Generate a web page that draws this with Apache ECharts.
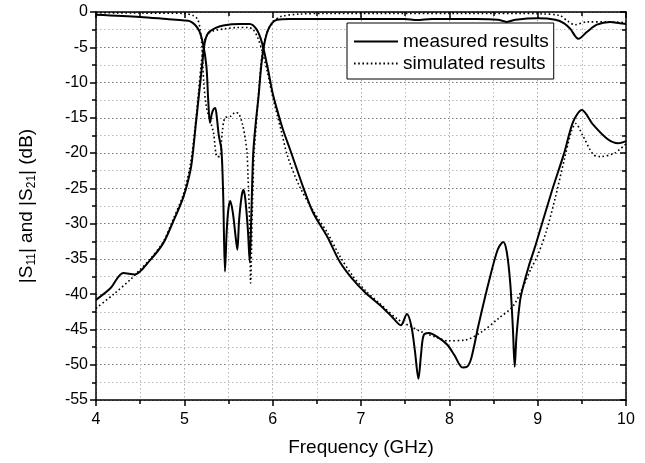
<!DOCTYPE html>
<html>
<head>
<meta charset="utf-8">
<script src="https://cdn.jsdelivr.net/npm/echarts@6/dist/echarts.min.js"></script>
<style>html,body{margin:0;padding:0;background:#fff}#c{width:645px;height:463px}</style>
</head>
<body>
<div id="c"></div>
<script>
// Measured |S11|
var measS11F = [4.0,4.5,4.8,5.0,5.06,5.12,5.17,5.21,5.25,5.27,5.29,5.31,5.33,5.35,5.37,5.39,5.42,5.44,5.46,5.48,5.50,5.52,5.55,5.58,5.60,5.62,5.65,5.67,5.69,5.72,5.74,5.76,5.78,5.81,5.84,5.87,5.90,5.94,5.99,6.05,6.2,6.5,7.0,7.5,7.63,7.8,8.3,8.55,8.65,8.75,9.0,9.2,9.3,9.37,9.46,9.56,9.67,9.82,9.93,10.0];
var measS11V = [-0.4,-0.7,-1.0,-1.2,-1.3,-1.8,-2.7,-4.4,-7.7,-12.4,-15.7,-14.5,-13.8,-13.6,-15.2,-17.5,-19.5,-26,-36.8,-31,-27.8,-26.8,-28.5,-31.8,-33.7,-29.5,-26,-25.2,-26.5,-31,-35.4,-28,-20,-15.5,-12,-7.7,-4.9,-2.8,-1.6,-1.1,-1.0,-1.0,-1.0,-1.0,-1.15,-1.0,-1.0,-1.1,-1.4,-1.1,-0.9,-1.1,-1.6,-2.4,-3.8,-2.8,-1.8,-1.4,-1.6,-1.7];
// Measured |S21|
var measS21F = [4.0,4.16,4.31,4.44,4.61,4.76,4.87,4.99,5.07,5.10,5.13,5.16,5.20,5.23,5.27,5.35,5.44,5.63,5.74,5.82,5.88,5.94,6.0,6.06,6.12,6.2,6.35,6.46,6.62,6.76,6.9,7.05,7.21,7.35,7.45,7.52,7.57,7.61,7.65,7.68,7.71,7.77,7.88,7.98,8.06,8.15,8.2,8.25,8.33,8.45,8.55,8.61,8.65,8.69,8.72,8.74,8.76,8.8,8.83,8.9,8.97,9.16,9.30,9.40,9.50,9.63,9.79,9.91,10.0];
var measS21V = [-40.8,-39.2,-37.0,-37.2,-35.2,-32.8,-29.8,-26.2,-22.4,-19.6,-15.9,-12.4,-7.7,-4.4,-3.0,-2.3,-1.9,-1.7,-1.7,-2.5,-4.4,-7.7,-11.5,-14.3,-16.8,-19.6,-25,-28.5,-31.9,-35.4,-37.8,-39.8,-41.5,-43.2,-44.4,-42.8,-44.5,-48,-52,-48.5,-45.8,-45.5,-46.2,-47.2,-48.7,-50.4,-50.3,-49,-44.4,-38.1,-33.6,-32.6,-34,-38.5,-45,-50.3,-46,-41,-39.2,-36,-33.3,-25.4,-20,-15.6,-13.9,-16,-18,-18.6,-18.3];
// Simulated |S11|
var simS11F = [4.0,4.5,5.0,5.1,5.15,5.18,5.20,5.22,5.25,5.29,5.33,5.37,5.40,5.43,5.46,5.52,5.58,5.62,5.66,5.69,5.71,5.72,5.74,5.75,5.77,5.79,5.82,5.85,5.88,5.92,5.97,6.03,6.1,6.3,6.6,8.8,9.03,9.25,9.34,9.42,9.56,9.78,10.0];
var simS11V = [-0.1,-0.15,-0.2,-0.5,-1.0,-2.5,-5,-10,-13.5,-15.3,-17.1,-20.5,-20.5,-17,-15,-14.8,-14.2,-14.5,-16,-18,-20,-23,-30,-38.4,-28,-20,-15,-10,-6,-3.5,-2,-1.1,-0.6,-0.3,-0.2,-0.2,-0.25,-0.5,-1.3,-1.8,-1.4,-1.4,-1.5];
// Simulated |S21|
var simS21F = [4.0,4.2,4.4,4.5,4.61,4.76,4.87,4.99,5.07,5.12,5.16,5.19,5.22,5.26,5.32,5.45,5.6,5.72,5.78,5.83,5.88,5.94,6.0,6.1,6.17,6.3,6.46,6.62,6.76,6.9,7.05,7.21,7.41,7.55,7.68,7.85,7.98,8.18,8.37,8.56,8.72,8.83,8.92,9.0,9.1,9.2,9.3,9.38,9.43,9.51,9.63,9.71,9.87,10.0];
var simS21V = [-42,-40,-37.8,-36.5,-35.1,-32.6,-29.5,-25.8,-21.5,-16.5,-11.5,-7.5,-4.5,-3.2,-2.7,-2.4,-2.2,-2.2,-2.5,-3.6,-5.5,-8.5,-12,-17,-20.5,-24.6,-28.2,-31.3,-34.6,-37.3,-39.5,-41.3,-43.5,-44.5,-45.3,-46.1,-46.6,-46.5,-45.3,-43.4,-41.7,-39.1,-36.5,-34.5,-31,-26.3,-21,-17,-15.8,-17.5,-20.2,-20.5,-20,-18.7];
// Axis ticks
var xTicks = {min: 4, max: 10, step: 1};
var yTicks = {min: -55, max: 0, step: 5};
var legendNames = ['measured results', 'simulated results'];

function pairs(f, v) { return f.map(function (x, i) { return [x, v[i]]; }); }

var FONT = 'Liberation Sans, Arial, sans-serif';
var solid = {color: '#000', width: 2, type: 'solid'};
var dotted = {color: '#000', width: 1.6, type: [1.6, 2.6]};

function mkSeries(name, data, ls) {
  return {name: name, type: 'line', data: data, symbol: 'none', smooth: 0.3,
    lineStyle: ls, itemStyle: {color: '#000'}, z: 3, animation: false};
}

var chart = echarts.init(document.getElementById('c'), null, {renderer: 'canvas'});
chart.setOption({
  animation: false,
  backgroundColor: '#fff',
  grid: {left: 96, right: 19, top: 12, bottom: 63, containLabel: false},
  legend: {
    data: legendNames, orient: 'vertical', left: 347, top: 23,
    borderColor: '#000', borderWidth: 1, padding: [8, 5, 5, 6],
    itemWidth: 44, itemHeight: 14, itemGap: 1, backgroundColor: '#fff',
    itemStyle: {color: 'rgba(0,0,0,0)', borderWidth: 0, opacity: 0},
    textStyle: {fontFamily: FONT, fontSize: 19, color: '#000', lineHeight: 21}
  },
  xAxis: [{
    type: 'value', min: xTicks.min, max: xTicks.max, interval: xTicks.step,
    name: 'Frequency (GHz)', nameLocation: 'middle', nameGap: 38,
    nameTextStyle: {fontFamily: FONT, fontSize: 19, color: '#000'},
    axisLine: {show: true, onZero: false, lineStyle: {color: '#000', width: 1.5}},
    axisTick: {show: true, inside: false, length: 6, lineStyle: {color: '#000', width: 1.5}},
    minorTick: {show: true, splitNumber: 2, length: 4, lineStyle: {color: '#000', width: 1.5}},
    axisLabel: {fontFamily: FONT, fontSize: 16, color: '#000', margin: 12},
    splitLine: {show: true, lineStyle: {color: '#aaa', type: [1.5, 2.5], width: 1}},
    minorSplitLine: {show: true, lineStyle: {color: '#bbb', type: [1.5, 2.5], width: 1}}
  }, {
    type: 'value', position: 'top', min: xTicks.min, max: xTicks.max, interval: xTicks.step,
    axisLine: {show: true, onZero: false, lineStyle: {color: '#000', width: 1.5}},
    axisTick: {show: true, inside: true, length: 6, lineStyle: {color: '#000', width: 1.5}},
    minorTick: {show: true, splitNumber: 2, length: 4, lineStyle: {color: '#000', width: 1.5}},
    axisLabel: {show: false}, splitLine: {show: false}
  }],
  yAxis: [{
    type: 'value', min: yTicks.min, max: yTicks.max, interval: yTicks.step,
    name: '|S{sub|11}| and |S{sub|21}| (dB)', nameLocation: 'middle', nameGap: 58,
    nameTextStyle: {fontFamily: FONT, fontSize: 19, color: '#000',
      rich: {sub: {fontFamily: FONT, fontSize: 12, color: '#000', padding: [10, 0, 0, 0]}}},
    axisLine: {show: true, onZero: false, lineStyle: {color: '#000', width: 1.5}},
    axisTick: {show: true, inside: false, length: 6, lineStyle: {color: '#000', width: 1.5}},
    minorTick: {show: true, splitNumber: 2, length: 4, lineStyle: {color: '#000', width: 1.5}},
    axisLabel: {fontFamily: FONT, fontSize: 16, color: '#000', margin: 8},
    splitLine: {show: true, lineStyle: {color: '#777', type: [1.5, 2.5], width: 1}},
    minorSplitLine: {show: true, lineStyle: {color: '#bbb', type: [1.5, 2.5], width: 1}}
  }, {
    type: 'value', position: 'right', min: yTicks.min, max: yTicks.max, interval: yTicks.step,
    axisLine: {show: true, onZero: false, lineStyle: {color: '#000', width: 1.5}},
    axisTick: {show: true, inside: true, length: 6, lineStyle: {color: '#000', width: 1.5}},
    minorTick: {show: true, splitNumber: 2, length: 4, lineStyle: {color: '#000', width: 1.5}},
    axisLabel: {show: false}, splitLine: {show: false}
  }],
  series: [
    mkSeries('measured results', pairs(measS11F, measS11V), solid),
    mkSeries('measured results', pairs(measS21F, measS21V), solid),
    mkSeries('simulated results', pairs(simS11F, simS11V), dotted),
    mkSeries('simulated results', pairs(simS21F, simS21V), dotted)
  ]
});
</script>
</body>
</html>
